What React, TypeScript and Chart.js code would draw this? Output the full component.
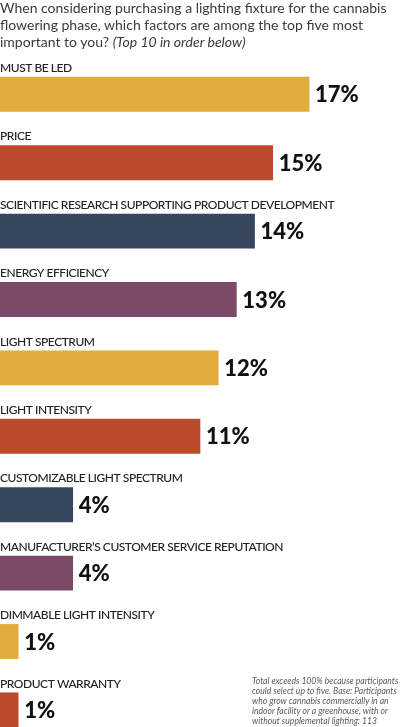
import React, { useEffect, useRef } from "react";
import { Chart, registerables } from "chart.js";

Chart.register(...registerables);

const categories = [
  "MUST BE LED",
  "PRICE",
  "SCIENTIFIC RESEARCH SUPPORTING PRODUCT DEVELOPMENT",
  "ENERGY EFFICIENCY",
  "LIGHT SPECTRUM",
  "LIGHT INTENSITY",
  "CUSTOMIZABLE LIGHT SPECTRUM",
  "MANUFACTURER’S CUSTOMER SERVICE REPUTATION",
  "DIMMABLE LIGHT INTENSITY",
  "PRODUCT WARRANTY",
];
const values = [17, 15, 14, 13, 12, 11, 4, 4, 1, 1];
const barColors = [
  "#E2AC3F",
  "#BA4C2C",
  "#37475E",
  "#7C4A66",
  "#E2AC3F",
  "#BA4C2C",
  "#37475E",
  "#7C4A66",
  "#E2AC3F",
  "#BA4C2C",
];
const titleLines = [
  "When considering purchasing a lighting fixture for the cannabis",
  "flowering phase, which factors are among the top five most",
  "important to you?",
];
const titleNote = "(Top 10 in order below)";
const footnoteLines = [
  "Total exceeds 100% because participants",
  "could select up to five. Base: Participants",
  "who grow cannabis commercially in an",
  "indoor facility or a greenhouse, with or",
  "without supplemental lighting: 113",
];

const labelPlugin = {
  id: "barLabels",
  afterDatasetsDraw(chart: any) {
    const ctx = chart.ctx;
    const meta = chart.getDatasetMeta(1);
    ctx.save();
    meta.data.forEach((bar: any, i: number) => {
      const top = bar.y - bar.height / 2;
      ctx.fillStyle = "#222";
      ctx.font = "500 12px Lato, 'Open Sans', sans-serif";
      (ctx as any).letterSpacing = "-0.45px";
      ctx.textBaseline = "middle";
      ctx.textAlign = "left";
      ctx.fillText(categories[i], 0, top - 9);
      (ctx as any).letterSpacing = "0px";
      ctx.fillStyle = "#111";
      ctx.font = "900 22px Lato, 'Open Sans', sans-serif";
      ctx.fillText(values[i] + "%", bar.x + 6, bar.y + 1);
    });
    ctx.restore();
  },
};

export default function App() {
  const ref = useRef<HTMLCanvasElement | null>(null);
  useEffect(() => {
    if (!ref.current) return;
    const chart = new Chart(ref.current, {
      type: "bar",
      data: {
        labels: categories,
        datasets: [
          { data: categories.map(() => null), backgroundColor: "transparent" },
          { data: values, backgroundColor: barColors, borderWidth: 0 },
        ],
      },
      options: {
        indexAxis: "y",
        animation: false,
        responsive: false,
        devicePixelRatio: 1,
        layout: { padding: { top: 43, bottom: 0, left: 0, right: 0 } },
        datasets: { bar: { categoryPercentage: 1, barPercentage: 1 } },
        plugins: { legend: { display: false }, tooltip: { enabled: false } },
        scales: {
          x: { display: false, min: 0, max: 22 },
          y: { display: false, grid: { display: false } },
        },
      },
      plugins: [labelPlugin],
    });
    return () => chart.destroy();
  }, []);

  return (
    <div style={{ position: "absolute", left: 0, top: 0, width: 400, height: 727, overflow: "hidden", background: "#fff" }}>
      <canvas ref={ref} width={400} height={727} style={{ position: "absolute", left: 0, top: 0, width: 400, height: 727 }} />
      <div
        style={{
          position: "absolute",
          left: 0,
          top: -1,
          width: 400,
          fontFamily: "Lato, 'Open Sans', sans-serif",
          fontSize: 14,
          lineHeight: "17px",
          color: "#3a3a3a",
          whiteSpace: "nowrap",
        }}
      >
        {titleLines.map((l, i) => (
          <div key={i}>
            {l}
            {i === titleLines.length - 1 ? (
              <>
                {" "}
                <i>{titleNote}</i>
              </>
            ) : null}
          </div>
        ))}
      </div>
      <div
        style={{
          position: "absolute",
          left: 252,
          top: 676,
          width: 150,
          fontFamily: "Lato, 'Open Sans', sans-serif",
          fontSize: 8.6,
          lineHeight: "10px",
          fontStyle: "italic",
          color: "#5a5a5a",
          whiteSpace: "nowrap",
        }}
      >
        {footnoteLines.map((l, i) => (
          <div key={i}>{l}</div>
        ))}
      </div>
    </div>
  );
}
